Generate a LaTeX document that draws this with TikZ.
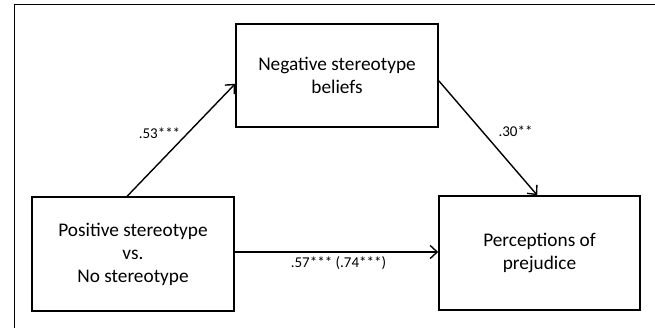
\documentclass[tikz,border=0pt]{standalone}
\usepackage{fontspec}
\setmainfont{Carlito}
\usetikzlibrary{arrows.meta,calc}
\begin{document}
\begin{tikzpicture}[x=1pt,y=1pt,
  box/.style={draw,line width=1.6pt,align=center,inner sep=0pt,
    font=\fontsize{19.3}{23}\selectfont},
  conn/.style={line width=1.4pt,-{Straight Barb[length=7pt,width=13pt,line width=1.4pt]}},
  lbl/.style={font=\fontsize{15}{18}\selectfont,inner sep=0pt,anchor=base}]
\useasboundingbox (0,0) rectangle (655,328);
\draw[line width=1pt] (655,323) -- (14,323) -- (14,0);
\node[box,minimum width=202pt,minimum height=103pt] (neg) at (337,252.5) {Negative stereotype\\beliefs};
\node[box,minimum width=202pt,minimum height=114pt] (pos) at (133,74) {Positive stereotype\\vs.\\No stereotype};
\node[box,minimum width=201pt,minimum height=114pt] (prej) at (539.5,75) {Perceptions of\\prejudice};
\coordinate (a1s) at ($(pos.north west)+(96,0)$);
\coordinate (a1e) at ($(neg.south west)+(0,44)$);
\coordinate (a2s) at ($(neg.south east)+(0,47)$);
\coordinate (a2e) at ($(prej.north west)+(99,0)$);
\draw[conn] (a1s) -- (a1e);
\draw[conn] (a2s) -- (a2e);
\draw[conn] (pos.east |- 0,76) -- (prej.west |- 0,76);
\node[lbl] (l1) at (159.5,189) {.53***};
\node[lbl] (l2) at (515.5,191) {.30**};
\node[lbl] (l3) at (338.5,60) {.57*** (.74***)};
\end{tikzpicture}
\end{document}
